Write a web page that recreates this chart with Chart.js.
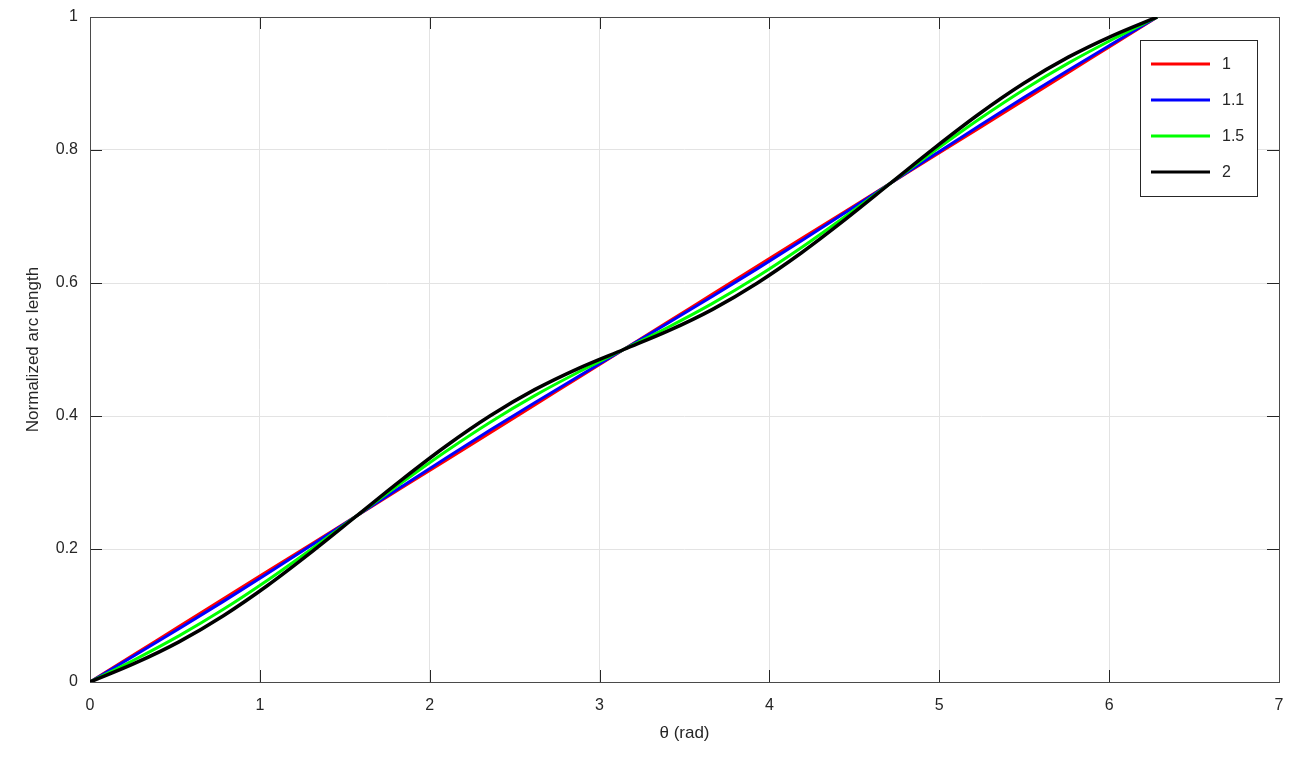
<!DOCTYPE html>
<html>
<head>
<meta charset="utf-8">
<title>Normalized arc length</title>
<script src="https://cdn.jsdelivr.net/npm/chart.js@4.4.1/dist/chart.umd.min.js"></script>
<style>
  html, body { margin: 0; padding: 0; background: #fff; }
  #wrap { width: 1313px; height: 772px; }
</style>
</head>
<body>
<div id="wrap"><canvas id="arc" width="1313" height="772"></canvas></div>
<script>
// theta samples (rad), every 15 degrees over one full turn
const theta = [0, 0.2618, 0.5236, 0.7854, 1.0472, 1.309, 1.5708, 1.8326, 2.0944, 2.3562, 2.618, 2.8798,
  3.1416, 3.4034, 3.6652, 3.927, 4.1888, 4.4506, 4.7124, 4.9742, 5.236, 5.4978, 5.7596, 6.0214, 6.2832];

// normalized arc length
const ratio1 = [0, 0.0417, 0.0833, 0.125, 0.1667, 0.2083, 0.25, 0.2917, 0.3333, 0.375, 0.4167, 0.4583,
  0.5, 0.5417, 0.5833, 0.625, 0.6667, 0.7083, 0.75, 0.7917, 0.8333, 0.875, 0.9167, 0.9583, 1];
const ratio11 = [0, 0.0398, 0.08, 0.1212, 0.1634, 0.2065, 0.25, 0.2935, 0.3366, 0.3788, 0.42, 0.4602,
  0.5, 0.5398, 0.58, 0.6212, 0.6634, 0.7065, 0.75, 0.7935, 0.8366, 0.8788, 0.92, 0.9602, 1];
const ratio15 = [0, 0.0335, 0.0694, 0.1093, 0.1534, 0.2008, 0.25, 0.2992, 0.3466, 0.3907, 0.4306, 0.4665,
  0.5, 0.5335, 0.5694, 0.6093, 0.6534, 0.7008, 0.75, 0.7992, 0.8466, 0.8907, 0.9306, 0.9665, 1];
const ratio2 = [0, 0.0279, 0.0604, 0.0997, 0.1455, 0.1964, 0.25, 0.3036, 0.3545, 0.4003, 0.4396, 0.4721,
  0.5, 0.5279, 0.5604, 0.5997, 0.6455, 0.6964, 0.75, 0.8036, 0.8545, 0.9003, 0.9396, 0.9721, 1];

const seriesLabels = ["1", "1.1", "1.5", "2"];
const seriesColors = ["#ff0000", "#0000ff", "#00ff00", "#000000"];
const seriesWidths = [3, 3, 3, 3.5];
const seriesData = [ratio1, ratio11, ratio15, ratio2];

const xTicks = [0, 1, 2, 3, 4, 5, 6, 7];
const yTicks = [0, 0.2, 0.4, 0.6, 0.8, 1];

const axisColor = "#262626";
const fontFamily = "'Liberation Sans', Arial, sans-serif";

const toPoints = (ys) => theta.map((t, i) => ({ x: t, y: ys[i] }));
const fmtTick = (v) => String(Math.round(v * 10) / 10);

// box + inward ticks on all four sides (matlab style)
const boxTicks = {
  id: "boxTicks",
  beforeDatasetsDraw(chart) {
    const { ctx, chartArea: a, scales } = chart;
    const len = 12;
    ctx.save();
    ctx.strokeStyle = axisColor;
    ctx.lineWidth = 1;
    ctx.beginPath();
    xTicks.forEach((v) => {
      const px = Math.round(scales.x.getPixelForValue(v)) + 0.5;
      ctx.moveTo(px, a.bottom); ctx.lineTo(px, a.bottom - len);
      ctx.moveTo(px, a.top); ctx.lineTo(px, a.top + len);
    });
    yTicks.forEach((v) => {
      const py = Math.round(scales.y.getPixelForValue(v)) + 0.5;
      ctx.moveTo(a.left, py); ctx.lineTo(a.left + len, py);
      ctx.moveTo(a.right, py); ctx.lineTo(a.right - len, py);
    });
    ctx.stroke();
    ctx.strokeStyle = "#4a4a4a";
    ctx.strokeRect(Math.round(a.left) + 0.5, Math.round(a.top) + 0.5,
      Math.round(a.right - a.left), Math.round(a.bottom - a.top));
    ctx.restore();
  },
};

// legend box in the top right corner
const boxLegend = {
  id: "boxLegend",
  afterDraw(chart) {
    const { ctx } = chart;
    const x0 = 1140, y0 = 40, w = 117, h = 156;
    ctx.save();
    ctx.fillStyle = "#fff";
    ctx.fillRect(x0, y0, w, h);
    ctx.strokeStyle = axisColor;
    ctx.lineWidth = 1;
    ctx.strokeRect(x0 + 0.5, y0 + 0.5, w, h);
    ctx.font = "16px " + fontFamily;
    ctx.textBaseline = "middle";
    chart.data.datasets.forEach((ds, i) => {
      const y = y0 + 24 + i * 36;
      ctx.strokeStyle = ds.borderColor;
      ctx.lineWidth = 3;
      ctx.beginPath();
      ctx.moveTo(x0 + 11, y);
      ctx.lineTo(x0 + 70, y);
      ctx.stroke();
      ctx.fillStyle = axisColor;
      ctx.fillText(ds.label, x0 + 82, y + 1);
    });
    ctx.restore();
  },
};

new Chart(document.getElementById("arc"), {
  type: "line",
  data: {
    datasets: seriesData.map((ys, i) => ({
      label: seriesLabels[i],
      data: toPoints(ys),
      borderColor: seriesColors[i],
      backgroundColor: seriesColors[i],
      borderWidth: seriesWidths[i],
      pointRadius: 0,
      cubicInterpolationMode: "monotone",
      fill: false,
      // later series are drawn on top, like plot() does
      order: seriesData.length - i,
    })),
  },
  options: {
    responsive: false,
    animation: false,
    layout: { padding: { top: 17, right: 34, left: 0, bottom: 0 } },
    plugins: { legend: { display: false }, tooltip: { enabled: false } },
    scales: {
      x: {
        type: "linear",
        min: 0,
        max: 7,
        afterBuildTicks: (s) => { s.ticks = xTicks.map((v) => ({ value: v })); },
        afterFit: (s) => { s.height = 90; },
        grid: { color: "#e3e3e3", drawTicks: false },
        border: { display: false },
        ticks: { color: axisColor, font: { size: 16, family: fontFamily }, padding: 14, callback: fmtTick },
        title: {
          display: true,
          text: "θ (rad)",
          color: axisColor,
          font: { size: 17, family: fontFamily },
          padding: { top: 0, bottom: 28 },
        },
      },
      y: {
        type: "linear",
        min: 0,
        max: 1,
        afterBuildTicks: (s) => { s.ticks = yTicks.map((v) => ({ value: v })); },
        afterFit: (s) => { s.width = 90; s.paddingTop = 0; s.paddingBottom = 0; },
        grid: { color: "#e3e3e3", drawTicks: false },
        border: { display: false },
        ticks: { color: axisColor, font: { size: 16, family: fontFamily }, padding: 12, callback: fmtTick },
        title: {
          display: true,
          text: "Normalized arc length",
          color: axisColor,
          font: { size: 17, family: fontFamily },
          padding: { top: 23, bottom: 0 },
        },
      },
    },
  },
  plugins: [boxTicks, boxLegend],
});
</script>
</body>
</html>
